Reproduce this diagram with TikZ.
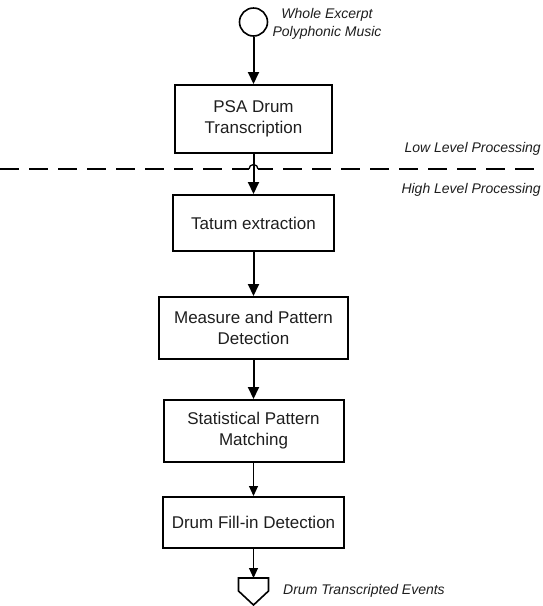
\documentclass[tikz,border=0pt]{standalone}
\usepackage{fontspec}
\setmainfont{Liberation Sans}
\usetikzlibrary{arrows.meta}
\definecolor{ink}{HTML}{1E1E1E}
\begin{document}
\begin{tikzpicture}[x=1pt,y=-1pt,
  stage/.style={draw=black, line width=2pt, align=center, inner sep=0pt, text=ink,
    font=\fontsize{17}{21}\selectfont},
  note/.style={font=\fontsize{14}{18}\selectfont\itshape, align=center, inner sep=0pt, text=ink},
  flow/.style={line width=2pt, -{Triangle[length=12pt,width=11pt]}},
  thinflow/.style={line width=1pt, -{Triangle[length=10pt,width=9pt]}},
  divider/.style={line width=1.3pt, dash pattern=on 19pt off 10pt}]
\useasboundingbox (0,0) rectangle (542,606);

% input terminal and its label
\node (src) [circle, draw, line width=1.6pt, minimum size=28pt, inner sep=0pt] at (253.5,22) {};
\node (srclbl) [note] at (327,24) {Whole Excerpt\\Polyphonic Music};

% processing stages
\node (psa) [stage, minimum width=157pt, minimum height=68pt] at (253.5,119) {PSA Drum\\Transcription};
\node (tatum) [stage, minimum width=161pt, minimum height=56pt] at (253.5,223) {Tatum extraction};
\node (measure) [stage, minimum width=189pt, minimum height=62pt] at (253.5,328) {Measure and Pattern\\Detection};
\node (stat) [stage, minimum width=180pt, minimum height=62pt] at (253.5,431) {Statistical Pattern\\Matching};
\node (fill) [stage, minimum width=181pt, minimum height=51pt] at (253.5,522.5) {Drum Fill-in Detection};

% off-page output connector
\coordinate (out) at (253.5,578);
\draw[line width=1.6pt, line join=miter] (out) -- ++(-15,0) -- ++(0,13) -- (253.5,605) -- (268.5,591) -- ++(0,-13) -- cycle;
\node (outlbl) [note, anchor=west] at (283,591) {Drum Transcripted Events};

% level divider with a hop over the flow line
\coordinate (dl) at (0,169);
\coordinate (dr) at (542,169);
\coordinate (hopL) at (249,169);
\coordinate (hopR) at (258,169);
\draw[divider] (dl) -- (hopL);
\draw[divider, dash phase=4pt] (hopR) -- (dr);
\draw[line width=1.3pt] (hopL) arc[start angle=180, end angle=0, radius=4.5pt];
\node (low) [note, anchor=east] at (541,149) {Low Level Processing};
\node (high) [note, anchor=east] at (541,190) {High Level Processing};

% connectors
\draw[flow] (src) -- (psa);
\draw[flow] (psa) -- (tatum);
\draw[flow] (tatum) -- (measure);
\draw[flow] (measure) -- (stat);
\draw[thinflow] (stat) -- (fill);
\draw[thinflow] (fill) -- (out);
\end{tikzpicture}
\end{document}
